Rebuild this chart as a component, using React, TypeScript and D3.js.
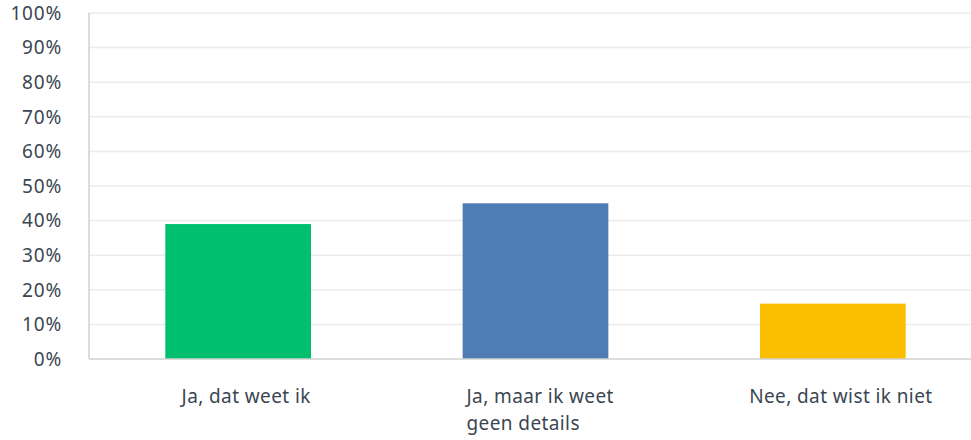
import * as d3 from "d3";

const categories = ["Ja, dat weet ik", "Ja, maar ik weet geen details", "Nee, dat wist ik niet"];
const labelLines = [["Ja, dat weet ik"], ["Ja, maar ik weet", "geen details"], ["Nee, dat wist ik niet"]];
const values = [39, 45, 16];
const colors = ["#00bf6f", "#507cb6", "#f9be00"];
const yTicks = [0, 10, 20, 30, 40, 50, 60, 70, 80, 90, 100];

const width = 971;
const height = 440;
const marginLeft = 89;
const marginTop = 13;
const marginBottom = 81;
const font = "'Noto Sans', sans-serif";
const textColor = "#3b4652";

const App = () => {
  const x = d3
    .scaleBand()
    .domain(categories)
    .range([marginLeft + 2, 980])
    .paddingInner(0.51)
    .paddingOuter(0.25);

  const y = d3
    .scaleLinear()
    .domain([0, 100])
    .range([height - marginBottom, marginTop]);

  return (
    <svg
      width={width}
      height={height}
      viewBox={`0 0 ${width} ${height}`}
      style={{ position: "absolute", left: 0, top: 0, fontFamily: font }}
    >
      <rect width={width} height={height} fill="#fff" />
      {/* grid */}
      <g>
        {yTicks.slice(1).map((t) => (
          <line
            key={t}
            x1={marginLeft}
            x2={width}
            y1={y(t)}
            y2={y(t)}
            stroke="#ececec"
            strokeWidth={1.5}
          />
        ))}
      </g>
      {/* y labels */}
      <g fill={textColor} fontSize={19} letterSpacing={0.8} textAnchor="end">
        {yTicks.map((t) => (
          <text key={t} x={62} y={y(t)} dy="0.36em">
            {t}%
          </text>
        ))}
      </g>
      {/* bars */}
      <g>
        {categories.map((c, i) => (
          <rect
            key={c}
            x={x(c)}
            y={y(values[i])}
            width={x.bandwidth()}
            height={y(0) - y(values[i])}
            fill={colors[i]}
          />
        ))}
      </g>
      {/* axes */}
      <line x1={marginLeft} x2={marginLeft} y1={marginTop} y2={y(0)} stroke="#d0d0d0" strokeWidth={1.5} />
      <line x1={marginLeft} x2={width} y1={y(0)} y2={y(0)} stroke="#d0d0d0" strokeWidth={1.5} />
      {/* x labels */}
      <g fill={textColor} fontSize={19} letterSpacing={0.4}>
        {categories.map((c, i) => {
          const center = (x(c) ?? 0) + x.bandwidth() / 2 + 8;
          const lines = labelLines[i];
          const multi = lines.length > 1;
          const startX = center - 77;
          return (
            <text
              key={c}
              x={multi ? startX : center}
              y={403}
              textAnchor={multi ? "start" : "middle"}
            >
              {lines.map((l, j) => (
                <tspan key={j} x={multi ? startX : center} dy={j === 0 ? 0 : 27}>
                  {l}
                </tspan>
              ))}
            </text>
          );
        })}
      </g>
    </svg>
  );
};

export default App;
